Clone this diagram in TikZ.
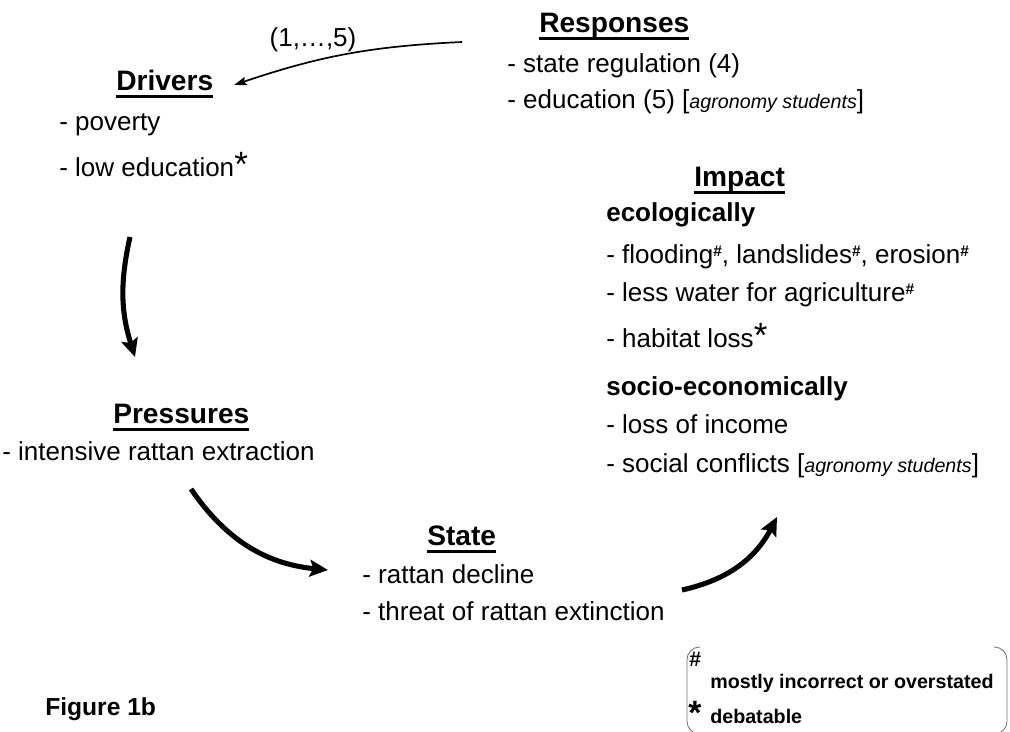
\documentclass[tikz,border=0pt]{standalone}
\usepackage{fontspec}
\setmainfont{Liberation Sans}
\usetikzlibrary{arrows.meta}

% underlined heading, superscript marks
\newcommand{\uhead}[1]{\setbox0=\hbox{#1}\usebox0\llap{\rule[-5.6pt]{\wd0}{2.2pt}}}
\newcommand{\wrongmark}{\raisebox{4.6pt}{\fontsize{11}{11}\selectfont\bfseries\#}}
\newcommand{\debatmark}{{\fontsize{25}{25}\selectfont *}}
\newcommand{\students}{[{\fontsize{14}{14}\selectfont\itshape agronomy students}]}

\begin{document}
\begin{tikzpicture}[
      x=0.025cm, y=0.025cm,
      every node/.style={inner sep=0pt, anchor=base west},
      head/.style={font=\fontsize{20}{24}\selectfont\bfseries},
      item/.style={font=\fontsize{18.5}{22}\selectfont},
      group/.style={font=\fontsize{18.5}{22}\selectfont\bfseries},
      note/.style={font=\fontsize{14}{17}\selectfont\bfseries},
      marker/.style={font=\fontsize{15}{15}\selectfont\bfseries},
      flow/.style={line width=3.6pt, -{Stealth[length=13pt, width=12pt, inset=2.5pt]}},
      link/.style={line width=1.2pt, -{Stealth[length=9pt, width=6pt, inset=1.5pt]}},
      bracket/.style={draw=black!55, line width=0.6pt, rounded corners=9}
  ]
    \useasboundingbox (0,0) rectangle (1010,-731);

    \node[head] (rsp) at (539,-32) {\uhead{Responses}};
    \node[item] (rsp1) at (507,-72) {- state regulation (4)};
    \node[item] (rsp2) at (507,-108) {- education (5) \students};

    \node[head] (drv) at (116,-90) {\uhead{Drivers}};
    \node[item] (drv1) at (59,-130) {- poverty};
    \node[item] (drv2) at (59,-176) {- low education\debatmark};

    \node[head] (prs) at (113,-423) {\uhead{Pressures}};
    \node[item] (prs1) at (2,-460) {- intensive rattan extraction};

    \node[head] (sta) at (427,-545) {\uhead{State}};
    \node[item] (sta1) at (362,-583) {- rattan decline};
    \node[item] (sta2) at (362,-620) {- threat of rattan extinction};

    \node[head] (imp) at (694,-186) {\uhead{Impact}};
    \node[group] (eco) at (606,-221) {ecologically};
    \node[item] (imp1) at (606,-263) {- flooding\wrongmark, landslides\wrongmark, erosion\wrongmark};
    \node[item] (imp2) at (606,-301) {- less water for agriculture\wrongmark};
    \node[item] (imp3) at (606,-347) {- habitat loss\debatmark};
    \node[group] (soc) at (606,-395) {socio-economically};
    \node[item] (imp4) at (606,-433) {- loss of income};
    \node[item] (imp5) at (606,-472) {- social conflicts \students};

    \node[item, anchor=center] (loop) at (313,-40) {(1,…,5)};

    \node[marker] (mk1) at (689,-666) {\#};
    \node[note] (leg1) at (710,-688) {mostly incorrect or overstated};
    \node[marker, font=\fontsize{24}{24}\selectfont\bfseries] (mk2) at (688,-724) {*};
    \node[note] (leg2) at (710,-723) {debatable};
    \draw[bracket] (700,-647) -| (687,-734) -- (700,-734);
    \draw[bracket] (994,-647) -| (1007,-734) -- (994,-734);

    \node[font=\fontsize{17.5}{21}\selectfont\bfseries] (fig) at (45,-715) {Figure 1b};

    % arrows between the blocks
    \coordinate (rspout) at (462,-42);
    \coordinate (drvin) at (234,-85);
    \coordinate (drvout) at (130,-237);
    \coordinate (prsin) at (135,-357);
    \coordinate (prsout) at (191,-489);
    \coordinate (stain) at (328,-570);
    \coordinate (staout) at (682,-590);
    \coordinate (impin) at (777,-517);
    \draw[link] (rspout) to[bend right=8] (drvin);
    \draw[flow] (drvout) to[bend right=15] (prsin);
    \draw[flow] (prsout) to[bend right=25] (stain);
    \draw[flow] (staout) to[bend right=25] (impin);
  \end{tikzpicture}
\end{document}
